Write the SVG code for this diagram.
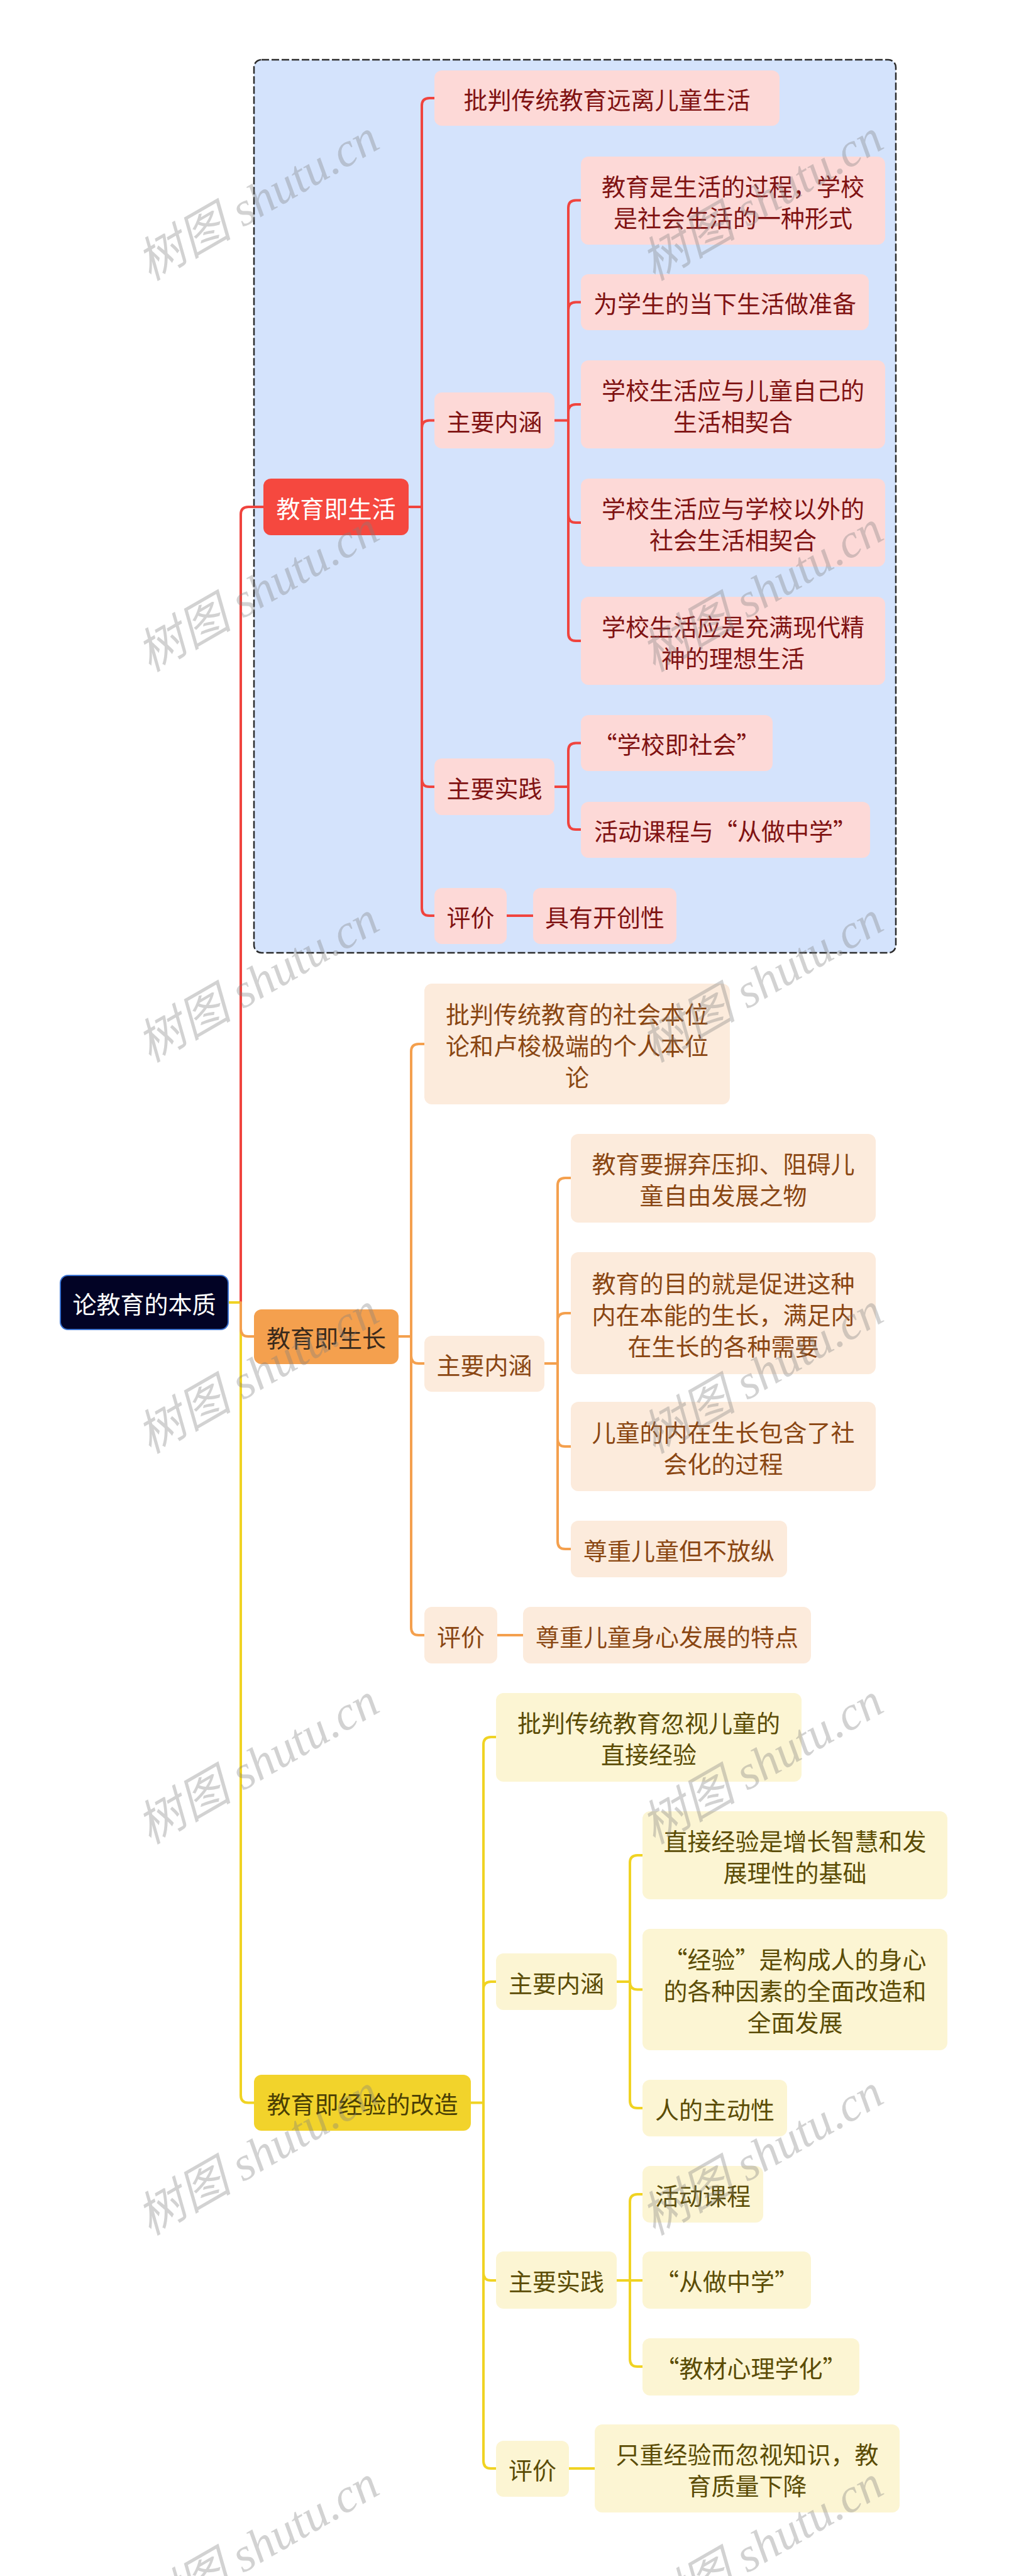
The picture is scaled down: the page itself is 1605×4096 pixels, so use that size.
<svg xmlns="http://www.w3.org/2000/svg" width="1605" height="4096" viewBox="0 0 1605 4096">
<style>
text{font-family:"Noto Sans CJK SC","Noto Sans",sans-serif;font-size:38px;text-anchor:middle;dominant-baseline:central}
.c{fill:none;stroke-width:4;stroke-linecap:round;stroke-linejoin:round}
.r{stroke:#f0443e}.o{stroke:#f4a04e}.y{stroke:#f0d323}
.nA{fill:#fdd9d7}.tA{fill:#801212}
.nB{fill:#fcebdc}.tB{fill:#8a4612}
.nC{fill:#fcf5d3}.tC{fill:#5b4c05}
.wm{font-family:"Liberation Serif","Noto Sans CJK SC",serif;font-style:italic;font-size:76px;fill:#808080;opacity:0.35}
</style>
<rect width="1605" height="4096" fill="#ffffff"/>
<rect x="404" y="95" width="1021" height="1420" rx="12" fill="#d4e3fc" stroke="#2b2b2b" stroke-width="2.5" stroke-dasharray="12 4"/>
<g id="connectors">
<path class="c y" d="M363,2071 H383 V3331.5 Q383,3343.5 395,3343.5 H404"/>
<path class="c r" d="M383,2071 V818 Q383,806 395,806 H419"/>
<path class="c o" d="M383,2071 V2113 Q383,2125 395,2125 H404"/>
<path class="c r" d="M650,806 H671 M671,806 V168 Q671,156 683,156 H691 M671,806 V680.6 Q671,668.6 683,668.6 H691 M671,806 V1239 Q671,1251 683,1251 H691 M671,806 V1444 Q671,1456 683,1456 H691"/>
<path class="c r" d="M882,668.6 H904 M904,668.6 V330.6 Q904,318.6 916,318.6 H924 M904,668.6 V492.5 Q904,480.5 916,480.5 H924 M904,668.6 V655 Q904,643 916,643 H924 M904,668.6 V819 Q904,831 916,831 H924 M904,668.6 V1007 Q904,1019 916,1019 H924"/>
<path class="c r" d="M882,1251 H904 M904,1251 V1193.6 Q904,1181.6 916,1181.6 H924 M904,1251 V1307 Q904,1319 916,1319 H924"/>
<path class="c r" d="M806,1456 H848"/>
<path class="c o" d="M634,2125 H654 M654,2125 V1672 Q654,1660 666,1660 H675 M654,2125 V2156 Q654,2168 666,2168 H675 M654,2125 V2588 Q654,2600 666,2600 H675"/>
<path class="c o" d="M866,2168 H887 M887,2168 V1885 Q887,1873 899,1873 H908 M887,2168 V2100 Q887,2088 899,2088 H908 M887,2168 V2288 Q887,2300 899,2300 H908 M887,2168 V2451 Q887,2463 899,2463 H908"/>
<path class="c o" d="M791,2600 H832"/>
<path class="c y" d="M749,3343.5 H769 M769,3343.5 V2774 Q769,2762 781,2762 H789 M769,3343.5 V3163 Q769,3151 781,3151 H789 M769,3343.5 V3614 Q769,3626 781,3626 H789 M769,3343.5 V3913 Q769,3925 781,3925 H789"/>
<path class="c y" d="M981,3151 H1002 M1002,3151 V2962 Q1002,2950 1014,2950 H1022 M1002,3151 V3151.5 Q1002,3163.5 1014,3163.5 H1022 M1002,3151 V3340 Q1002,3352 1014,3352 H1022"/>
<path class="c y" d="M981,3626 H1002 M1002,3626 V3501 Q1002,3489 1014,3489 H1022 M1002,3626 H1022 M1002,3626 V3751 Q1002,3763 1014,3763 H1022"/>
<path class="c y" d="M905,3925 H946"/>
</g>
<g id="root"><rect x="96" y="2028" width="267" height="86" rx="12" fill="#020325" stroke="#3b73d1" stroke-width="2"/><text x="229.5" y="2071" fill="#ffffff">论教育的本质</text></g>
<g id="A"><rect x="419" y="761" width="231" height="90" rx="12" fill="#f5483f"/><text x="534.5" y="806" fill="#ffffff">教育即生活</text></g>
<g id="A1"><rect class="nA" x="691" y="112" width="549" height="88" rx="12"/><text class="tA" x="965.5" y="156">批判传统教育远离儿童生活</text></g>
<g id="A2"><rect class="nA" x="691" y="624" width="191" height="89" rx="12"/><text class="tA" x="786.5" y="668.5">主要内涵</text></g>
<g id="A2a"><rect class="nA" x="924" y="249" width="484" height="140" rx="12"/><text class="tA" x="1166" y="294">教育是生活的过程，学校</text><text class="tA" x="1166" y="344">是社会生活的一种形式</text></g>
<g id="A2b"><rect class="nA" x="924" y="436" width="458" height="89" rx="12"/><text class="tA" x="1153" y="480.5">为学生的当下生活做准备</text></g>
<g id="A2c"><rect class="nA" x="924" y="573" width="484" height="140" rx="12"/><text class="tA" x="1166" y="618">学校生活应与儿童自己的</text><text class="tA" x="1166" y="668">生活相契合</text></g>
<g id="A2d"><rect class="nA" x="924" y="761" width="484" height="140" rx="12"/><text class="tA" x="1166" y="806">学校生活应与学校以外的</text><text class="tA" x="1166" y="856">社会生活相契合</text></g>
<g id="A2e"><rect class="nA" x="924" y="949" width="484" height="140" rx="12"/><text class="tA" x="1166" y="994">学校生活应是充满现代精</text><text class="tA" x="1166" y="1044">神的理想生活</text></g>
<g id="A3"><rect class="nA" x="691" y="1206" width="191" height="90" rx="12"/><text class="tA" x="786.5" y="1251">主要实践</text></g>
<g id="A3a"><rect class="nA" x="924" y="1137" width="305" height="89" rx="12"/><text class="tA" x="1076.5" y="1181.5">“学校即社会”</text></g>
<g id="A3b"><rect class="nA" x="924" y="1275" width="460" height="89" rx="12"/><text class="tA" x="1154" y="1319.5">活动课程与“从做中学”</text></g>
<g id="A4"><rect class="nA" x="691" y="1412" width="115" height="89" rx="12"/><text class="tA" x="748.5" y="1456.5">评价</text></g>
<g id="A4a"><rect class="nA" x="848" y="1412" width="228" height="89" rx="12"/><text class="tA" x="962" y="1456.5">具有开创性</text></g>
<g id="B"><rect x="404" y="2082" width="230" height="87" rx="12" fill="#f4a04e"/><text x="519" y="2125.5" fill="#3a2a1c">教育即生长</text></g>
<g id="B1"><rect class="nB" x="675" y="1564" width="486" height="192" rx="12"/><text class="tB" x="918" y="1610">批判传统教育的社会本位</text><text class="tB" x="918" y="1660">论和卢梭极端的个人本位</text><text class="tB" x="918" y="1710">论</text></g>
<g id="B2"><rect class="nB" x="675" y="2124" width="191" height="89" rx="12"/><text class="tB" x="770.5" y="2168.5">主要内涵</text></g>
<g id="B2a"><rect class="nB" x="908" y="1803" width="485" height="141" rx="12"/><text class="tB" x="1150.5" y="1848.5">教育要摒弃压抑、阻碍儿</text><text class="tB" x="1150.5" y="1898.5">童自由发展之物</text></g>
<g id="B2b"><rect class="nB" x="908" y="1991" width="485" height="194" rx="12"/><text class="tB" x="1150.5" y="2038">教育的目的就是促进这种</text><text class="tB" x="1150.5" y="2088">内在本能的生长，满足内</text><text class="tB" x="1150.5" y="2138">在生长的各种需要</text></g>
<g id="B2c"><rect class="nB" x="908" y="2229" width="485" height="142" rx="12"/><text class="tB" x="1150.5" y="2275">儿童的内在生长包含了社</text><text class="tB" x="1150.5" y="2325">会化的过程</text></g>
<g id="B2d"><rect class="nB" x="908" y="2418" width="344" height="90" rx="12"/><text class="tB" x="1080" y="2463">尊重儿童但不放纵</text></g>
<g id="B3"><rect class="nB" x="675" y="2555" width="116" height="90" rx="12"/><text class="tB" x="733" y="2600">评价</text></g>
<g id="B3a"><rect class="nB" x="832" y="2555" width="458" height="90" rx="12"/><text class="tB" x="1061" y="2600">尊重儿童身心发展的特点</text></g>
<g id="C"><rect x="404" y="3299" width="345" height="89" rx="12" fill="#f2d32b"/><text x="576.5" y="3343.5" fill="#4a3f05">教育即经验的改造</text></g>
<g id="C1"><rect class="nC" x="789" y="2692" width="486" height="141" rx="12"/><text class="tC" x="1032" y="2737.5">批判传统教育忽视儿童的</text><text class="tC" x="1032" y="2787.5">直接经验</text></g>
<g id="C2"><rect class="nC" x="789" y="3106" width="192" height="90" rx="12"/><text class="tC" x="885" y="3151">主要内涵</text></g>
<g id="C2a"><rect class="nC" x="1022" y="2880" width="485" height="140" rx="12"/><text class="tC" x="1264.5" y="2925">直接经验是增长智慧和发</text><text class="tC" x="1264.5" y="2975">展理性的基础</text></g>
<g id="C2b"><rect class="nC" x="1022" y="3067" width="485" height="193" rx="12"/><text class="tC" x="1264.5" y="3113.5">“经验”是构成人的身心</text><text class="tC" x="1264.5" y="3163.5">的各种因素的全面改造和</text><text class="tC" x="1264.5" y="3213.5">全面发展</text></g>
<g id="C2c"><rect class="nC" x="1022" y="3307" width="230" height="90" rx="12"/><text class="tC" x="1137" y="3352">人的主动性</text></g>
<g id="C3"><rect class="nC" x="789" y="3580" width="192" height="91" rx="12"/><text class="tC" x="885" y="3625.5">主要实践</text></g>
<g id="C3a"><rect class="nC" x="1022" y="3444" width="192" height="90" rx="12"/><text class="tC" x="1118" y="3489">活动课程</text></g>
<g id="C3b"><rect class="nC" x="1022" y="3580" width="268" height="91" rx="12"/><text class="tC" x="1156" y="3625.5">“从做中学”</text></g>
<g id="C3c"><rect class="nC" x="1022" y="3718" width="345" height="91" rx="12"/><text class="tC" x="1194.5" y="3763.5">“教材心理学化”</text></g>
<g id="C4"><rect class="nC" x="789" y="3881" width="116" height="89" rx="12"/><text class="tC" x="847" y="3925.5">评价</text></g>
<g id="C4a"><rect class="nC" x="946" y="3855" width="485" height="140" rx="12"/><text class="tC" x="1188.5" y="3900">只重经验而忽视知识，教</text><text class="tC" x="1188.5" y="3950">育质量下降</text></g>
<g id="watermark">
<text class="wm" transform="translate(410,318) rotate(-30)">树图 shutu.cn</text>
<text class="wm" transform="translate(1212,318) rotate(-30)">树图 shutu.cn</text>
<text class="wm" transform="translate(410,940) rotate(-30)">树图 shutu.cn</text>
<text class="wm" transform="translate(1212,940) rotate(-30)">树图 shutu.cn</text>
<text class="wm" transform="translate(410,1561) rotate(-30)">树图 shutu.cn</text>
<text class="wm" transform="translate(1212,1561) rotate(-30)">树图 shutu.cn</text>
<text class="wm" transform="translate(410,2183) rotate(-30)">树图 shutu.cn</text>
<text class="wm" transform="translate(1212,2183) rotate(-30)">树图 shutu.cn</text>
<text class="wm" transform="translate(410,2804) rotate(-30)">树图 shutu.cn</text>
<text class="wm" transform="translate(1212,2804) rotate(-30)">树图 shutu.cn</text>
<text class="wm" transform="translate(410,3426) rotate(-30)">树图 shutu.cn</text>
<text class="wm" transform="translate(1212,3426) rotate(-30)">树图 shutu.cn</text>
<text class="wm" transform="translate(410,4048) rotate(-30)">树图 shutu.cn</text>
<text class="wm" transform="translate(1212,4048) rotate(-30)">树图 shutu.cn</text>
</g>
</svg>
